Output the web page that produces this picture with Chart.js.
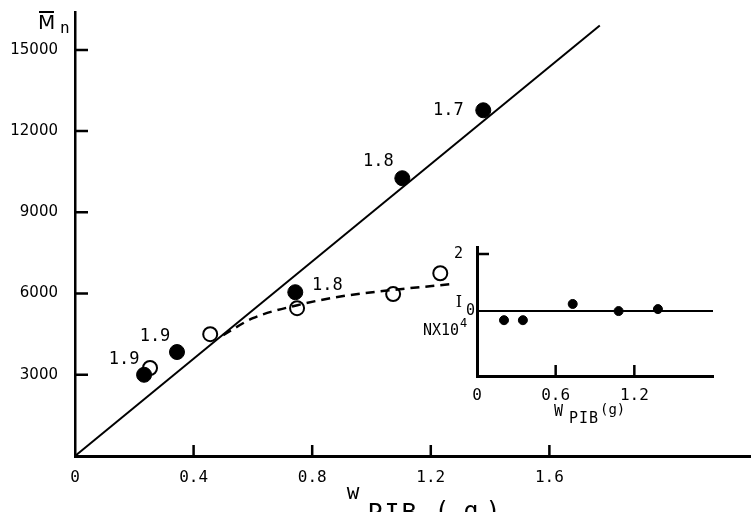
<!DOCTYPE html>
<html>
<head>
<meta charset="utf-8">
<script src="https://cdn.jsdelivr.net/npm/chart.js@4"></script>
<style>
  body { margin: 0; background: #fff; }
  #wrap { position: relative; width: 751px; height: 512px; overflow: hidden; }
  #main { position: absolute; left: 0; top: 0; }
  #inset { position: absolute; left: 420px; top: 240px; }
</style>
</head>
<body>
<div id="wrap">
  <canvas id="main" width="751" height="512"></canvas>
  <canvas id="inset" width="331" height="200"></canvas>
</div>
<script>
// main plot: Mn vs W_PIB
const mainXTicks = [0, 0.4, 0.8, 1.2, 1.6];
const mainYTicks = [3000, 6000, 9000, 12000, 15000];

const filledX = [0.233, 0.344, 0.743, 1.104, 1.377];
const filledY = [3000, 3840, 6050, 10260, 12770];
const filledLabels = ['1.9', '1.9', '1.8', '1.8', '1.7'];

const openX = [0.253, 0.456, 0.749, 1.073, 1.232];
const openY = [3250, 4500, 5460, 5980, 6750];

const fitX = [0, 1.77];
const fitY = [0, 15900];

const curveX = [0.5, 0.6, 0.75, 0.9, 1.07, 1.27];
const curveY = [4465, 5090, 5570, 5900, 6130, 6350];

// inset: N x 10^4 vs W_PIB
const insetXTicks = [0, 0.6, 1.2];
const insetYTicks = [0, 2];
const insetX = [0.206, 0.35, 0.73, 1.08, 1.38];
const insetY = [-0.32, -0.32, 0.25, 0, 0.07];
const zeroX = [0, 1.8];
const zeroY = [0, 0];

// label offsets from their points (px)
const labelOffsets = [[-20, -15], [-22, -15], [32, -7], [-24, -17], [-35, 0]];

const pts = (xs, ys) => xs.map((x, i) => ({ x: x, y: ys[i] }));
const MONO = "'DejaVu Sans Mono', monospace";
const noPad = s => { s.paddingTop = 0; s.paddingBottom = 0; s.paddingLeft = 0; s.paddingRight = 0; };

const inwardTicks = {
  id: 'inwardTicks',
  afterDraw(chart, args, opts) {
    const ctx = chart.ctx, a = chart.chartArea;
    const sx = chart.scales.x, sy = chart.scales.y;
    ctx.save();
    ctx.strokeStyle = '#000';
    ctx.lineWidth = opts.width;
    ctx.beginPath();
    sx.ticks.forEach(t => {
      if (t.value === 0) return;
      const p = sx.getPixelForValue(t.value);
      ctx.moveTo(p, a.bottom); ctx.lineTo(p, a.bottom - opts.xLen);
    });
    sy.ticks.forEach(t => {
      if (t.value === 0) return;
      const p = sy.getPixelForValue(t.value);
      ctx.moveTo(a.left, p); ctx.lineTo(a.left + opts.yLen, p);
    });
    ctx.stroke();
    ctx.restore();
  }
};

const mainText = {
  id: 'mainText',
  afterDraw(chart) {
    const ctx = chart.ctx;
    ctx.save();
    ctx.fillStyle = '#000';
    ctx.textAlign = 'center';
    ctx.textBaseline = 'middle';
    ctx.font = '17px ' + MONO;
    const meta = chart.getDatasetMeta(2);
    meta.data.forEach((el, i) => {
      ctx.fillText(filledLabels[i], el.x + labelOffsets[i][0], el.y + labelOffsets[i][1]);
    });
    // y title: M-bar sub n
    ctx.textBaseline = 'alphabetic';
    ctx.font = "20px 'DejaVu Sans', sans-serif";
    ctx.textAlign = 'left';
    ctx.fillText('M', 38, 29);
    ctx.fillRect(39, 11, 15, 2);
    ctx.font = '16px ' + MONO;
    ctx.fillText('n', 60, 33);
    // x title: w PIB (g)
    ctx.textAlign = 'center';
    ctx.font = '21px ' + MONO;
    ctx.fillText('w', 353, 499);
    ctx.font = '25px ' + MONO;
    ['P', 'I', 'B'].forEach((c, i) => ctx.fillText(c, 375 + i * 17, 521));
    ctx.fillText('(', 442, 519);
    ctx.fillText('g', 471, 519);
    ctx.fillText(')', 493, 519);
    ctx.restore();
  }
};

new Chart(document.getElementById('main'), {
  type: 'scatter',
  data: {
    datasets: [
      { data: pts(fitX, fitY), showLine: true, borderColor: '#000', borderWidth: 2, pointRadius: 0 },
      { data: pts(curveX, curveY), showLine: true, borderColor: '#000', borderWidth: 2.5,
        borderDash: [9, 6], cubicInterpolationMode: 'monotone', pointRadius: 0 },
      { data: pts(filledX, filledY), pointRadius: 7.5, backgroundColor: '#000', borderColor: '#000', borderWidth: 1 },
      { data: pts(openX, openY), pointRadius: 7, backgroundColor: '#fff', borderColor: '#000', borderWidth: 2 }
    ]
  },
  options: {
    responsive: false,
    animation: false,
    layout: { autoPadding: false, padding: { top: 12, right: 0, left: 0, bottom: 0 } },
    plugins: {
      legend: { display: false },
      tooltip: { enabled: false },
      inwardTicks: { width: 2.5, xLen: 11, yLen: 13 }
    },
    scales: {
      x: {
        type: 'linear', min: 0, max: 2.28,
        afterBuildTicks: s => { s.ticks = mainXTicks.map(v => ({ value: v })); },
        afterFit: s => { s.height = 56; noPad(s); },
        grid: { display: false, drawTicks: false },
        border: { display: true, color: '#000', width: 3 },
        ticks: { color: '#000', font: { family: MONO, size: 16 }, padding: 12,
                 maxRotation: 0, autoSkip: false,
                 callback: v => v === 0 ? '0' : v.toFixed(1) }
      },
      y: {
        type: 'linear', min: 0, max: 16400,
        afterBuildTicks: s => { s.ticks = mainYTicks.map(v => ({ value: v })); },
        afterFit: s => { s.width = 75; noPad(s); },
        grid: { display: false, drawTicks: false },
        border: { display: true, color: '#000', width: 2.5 },
        ticks: { color: '#000', font: { family: "'DejaVu Sans', sans-serif", size: 15 }, padding: 17,
                 callback: v => String(v) }
      }
    }
  },
  plugins: [inwardTicks, mainText]
});

const insetText = {
  id: 'insetText',
  afterDraw(chart) {
    const ctx = chart.ctx, a = chart.chartArea, sy = chart.scales.y;
    ctx.save();
    ctx.fillStyle = '#000';
    ctx.font = '15px ' + MONO;
    ctx.textBaseline = 'middle';
    ctx.textAlign = 'right';
    ctx.fillText('2', a.left - 14, sy.getPixelForValue(2));
    ctx.fillText('0', a.left - 2, sy.getPixelForValue(0));
    ctx.font = "16px 'DejaVu Serif', serif";
    ctx.fillText('I', a.left - 15, sy.getPixelForValue(0) - 8);
    // NX10^4
    ctx.textAlign = 'left';
    ctx.font = '15px ' + MONO;
    ctx.fillText('NX10', 3, 91);
    ctx.font = '12px ' + MONO;
    ctx.fillText('4', 40, 84);
    // x title
    ctx.font = '15px ' + MONO;
    ctx.fillText('W', 134, 172);
    ctx.font = '15px ' + MONO;
    ['P', 'I', 'B'].forEach((c, i) => ctx.fillText(c, 149 + i * 10, 179));
    ctx.font = '14px ' + MONO;
    ctx.fillText('(g)', 180, 170);
    ctx.restore();
  }
};

new Chart(document.getElementById('inset'), {
  type: 'scatter',
  data: {
    datasets: [
      { data: pts(zeroX, zeroY), showLine: true, borderColor: '#000', borderWidth: 2, pointRadius: 0 },
      { data: pts(insetX, insetY), pointRadius: 4.5, backgroundColor: '#000', borderColor: '#000', borderWidth: 1 }
    ]
  },
  options: {
    responsive: false,
    animation: false,
    layout: { autoPadding: false, padding: { top: 7, right: 38, left: 0, bottom: 0 } },
    plugins: {
      legend: { display: false },
      tooltip: { enabled: false },
      inwardTicks: { width: 2.5, xLen: 11, yLen: 12 }
    },
    scales: {
      x: {
        type: 'linear', min: 0, max: 1.8,
        afterBuildTicks: s => { s.ticks = insetXTicks.map(v => ({ value: v })); },
        afterFit: s => { s.height = 64; noPad(s); },
        grid: { display: false, drawTicks: false },
        border: { display: true, color: '#000', width: 3 },
        ticks: { color: '#000', font: { family: MONO, size: 16 }, padding: 10,
                 maxRotation: 0, autoSkip: false,
                 callback: v => v === 0 ? '0' : v.toFixed(1) }
      },
      y: {
        type: 'linear', min: -2.28, max: 2.25,
        afterBuildTicks: s => { s.ticks = insetYTicks.map(v => ({ value: v })); },
        afterFit: s => { s.width = 57; noPad(s); },
        grid: { display: false, drawTicks: false },
        border: { display: true, color: '#000', width: 3 },
        ticks: { display: false }
      }
    }
  },
  plugins: [inwardTicks, insetText]
});
</script>
</body>
</html>
